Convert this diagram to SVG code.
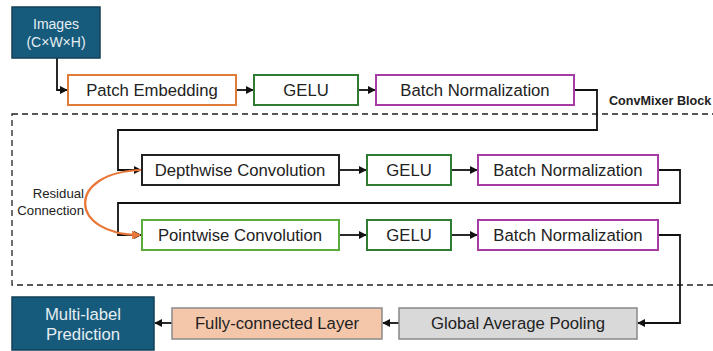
<svg xmlns="http://www.w3.org/2000/svg" width="713" height="351" viewBox="0 0 713 351">
  <defs>
    <marker id="arr" viewBox="0 0 10 10" refX="9" refY="5" markerWidth="4.5" markerHeight="4.5" orient="auto">
      <path d="M0,0 L10,5 L0,10 z" fill="#111"/>
    </marker>
    <marker id="arrO" viewBox="0 0 10 10" refX="9" refY="5" markerWidth="4" markerHeight="4" orient="auto">
      <path d="M0,0 L10,5 L0,10 z" fill="#e8773a"/>
    </marker>
  </defs>
  <style>
    text { font-family: "Liberation Sans", Arial, sans-serif; }
    .lbl { font-size: 16.7px; fill: #222; text-anchor: middle; dominant-baseline: central; }
    .wlbl { font-size: 16.7px; fill: #e6eef3; text-anchor: middle; dominant-baseline: central; }
    .box { fill: #fff; stroke-width: 2; }
    .dark { fill: #175b7c; stroke: #123f57; stroke-width: 1.5; }
    .orange { stroke: #e07b39; }
    .green { stroke: #2e7d32; }
    .lgreen { stroke: #5aac3c; }
    .purple { stroke: #a53ca6; }
    .black { stroke: #222; }
    .conn { fill: none; stroke: #111; stroke-width: 1.8; marker-end: url(#arr); }
  </style>

  <!-- block frame -->
  <rect x="12" y="114" width="720" height="171" fill="none" stroke="#222" stroke-width="1.3" stroke-dasharray="6,4"/>
  <text x="609" y="105" font-size="12.6" font-weight="bold" fill="#222">ConvMixer Block</text>

  <g id="connectors">
    <path class="conn" d="M57,58 V90 H67"/>
    <path class="conn" d="M236,90 H253"/>
    <path class="conn" d="M358,90 H375"/>
    <path class="conn" d="M574,90 H597 V130 H118 V170 H141"/>
    <path class="conn" d="M339,170 H366"/>
    <path class="conn" d="M451,170 H477"/>
    <path class="conn" d="M658,170 H680 V203 H118 V235 H141"/>
    <path class="conn" d="M339,235 H366"/>
    <path class="conn" d="M451,235 H477"/>
    <path class="conn" d="M658,235 H680 V323 H638"/>
    <path class="conn" d="M399,323 H383"/>
    <path class="conn" d="M172,323 H155"/>
    <!-- residual connection -->
    <path d="M142,170 C65,172 68,235 140,235" fill="none" stroke="#e8773a" stroke-width="2.2" marker-end="url(#arrO)"/>
    <text x="84" y="198" font-size="13.2" fill="#222" text-anchor="end">Residual</text>
    <text x="84" y="215" font-size="13.2" fill="#222" text-anchor="end">Connection</text>
  </g>

  <g id="images">
    <rect class="dark" x="12" y="7" width="88" height="51"/>
    <text class="wlbl" x="56" y="24" style="font-size:14px">Images</text>
    <text class="wlbl" x="56" y="42" style="font-size:14px">(C×W×H)</text>
  </g>
  <g id="patch-embedding">
    <rect class="box orange" x="68" y="75" width="168" height="30"/>
    <text class="lbl" x="152" y="90">Patch Embedding</text>
  </g>
  <g id="gelu-1">
    <rect class="box green" x="254" y="75" width="104" height="30"/>
    <text class="lbl" x="306" y="90">GELU</text>
  </g>
  <g id="batchnorm-1">
    <rect class="box purple" x="376" y="75" width="198" height="30"/>
    <text class="lbl" x="475" y="90">Batch Normalization</text>
  </g>

  <g id="depthwise-conv">
    <rect class="box black" x="142" y="155" width="197" height="30"/>
    <text class="lbl" x="240" y="170">Depthwise Convolution</text>
  </g>
  <g id="gelu-2">
    <rect class="box green" x="367" y="155" width="84" height="30"/>
    <text class="lbl" x="409" y="170">GELU</text>
  </g>
  <g id="batchnorm-2">
    <rect class="box purple" x="478" y="155" width="180" height="30"/>
    <text class="lbl" x="568" y="170">Batch Normalization</text>
  </g>

  <g id="pointwise-conv">
    <rect class="box lgreen" x="142" y="220" width="197" height="30"/>
    <text class="lbl" x="240" y="235">Pointwise Convolution</text>
  </g>
  <g id="gelu-3">
    <rect class="box green" x="367" y="220" width="84" height="30"/>
    <text class="lbl" x="409" y="235">GELU</text>
  </g>
  <g id="batchnorm-3">
    <rect class="box purple" x="478" y="220" width="180" height="30"/>
    <text class="lbl" x="568" y="235">Batch Normalization</text>
  </g>

  <g id="global-avg-pool">
    <rect x="399" y="308" width="238" height="31" fill="#d9d9d9" stroke="#888" stroke-width="1.5"/>
    <text class="lbl" x="518" y="323.5">Global Average Pooling</text>
  </g>
  <g id="fully-connected">
    <rect x="172" y="308" width="210" height="31" fill="#f5c7aa" stroke="#8a8a8a" stroke-width="1.5"/>
    <text class="lbl" x="277" y="323.5">Fully-connected Layer</text>
  </g>
  <g id="prediction">
    <rect class="dark" x="12" y="297" width="142" height="53"/>
    <text class="wlbl" x="83" y="314">Multi-label</text>
    <text class="wlbl" x="83" y="334">Prediction</text>
  </g>
</svg>
